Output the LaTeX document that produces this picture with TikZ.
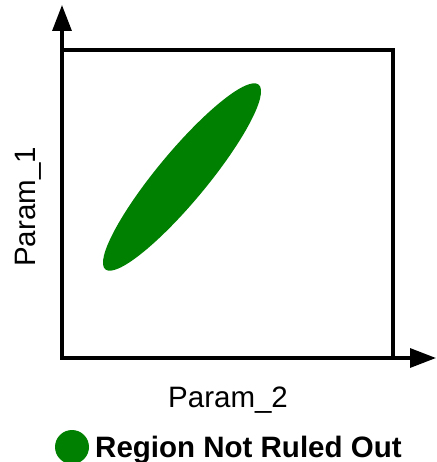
\documentclass[tikz,border=0pt]{standalone}
\usepackage{fontspec}
\setmainfont{Liberation Sans}
\usetikzlibrary{arrows.meta}
\definecolor{rgngreen}{RGB}{0,128,0}
\tikzset{
  rgnaxis/.style={-{Triangle[length=26pt,width=19pt]}, line width=3.3pt, draw=black},
  rgnframe/.style={line width=3.3pt, draw=black},
  rgnlabel/.style={inner sep=0pt, font=\fontsize{29.5}{33}\selectfont},
  rgnkey/.style={inner sep=0pt, font=\fontsize{29.5}{33}\selectfont\bfseries}
}
\begin{document}
\begin{tikzpicture}[x=1pt, y=-1pt]
  \useasboundingbox (0,0) rectangle (436,462);
  % axes and frame
  \coordinate (orig) at (62,358);
  \coordinate (ytip) at (62,5);
  \coordinate (xtip) at (436,358);
  \draw[rgnframe] (62,50) rectangle (393,358);
  \draw[rgnaxis] (orig) -- (ytip);
  \draw[rgnaxis] (orig) -- (xtip);
  % region
  \fill[rgngreen, shift={(182,177)}, rotate=50.3] (0,0) ellipse [x radius=120pt, y radius=25pt];
  % labels
  \node[rgnlabel, rotate=90, anchor=base west] (ylab) at (35,267) {Param\_1};
  \node[rgnlabel, anchor=base west] (xlab) at (168,407) {Param\_2};
  % legend
  \node[circle, fill=rgngreen, minimum size=34pt, inner sep=0pt] (keydot) at (72,447) {};
  \node[rgnkey, anchor=base west] (keytext) at (95,457) {Region Not Ruled Out};
\end{tikzpicture}
\end{document}
